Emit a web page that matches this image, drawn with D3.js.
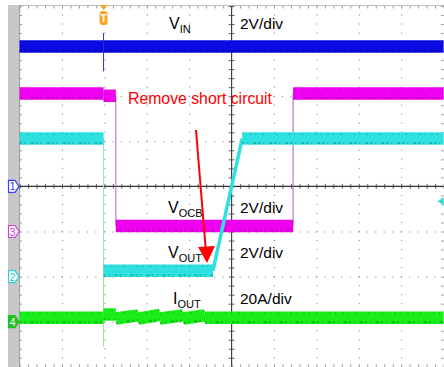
<!DOCTYPE html>
<html>
<head>
<meta charset="utf-8">
<script src="https://cdn.jsdelivr.net/npm/d3@7"></script>
<style>
body { margin: 0; background: #fff; }
svg { display: block; font-family: "Liberation Sans", Arial, sans-serif; }
</style>
</head>
<body>
<svg id="chart" width="444" height="367"></svg>
<script>
// time in divisions (10 across), level in divisions (0 = centre line, +-4)
const vinTime = [0, 10]
const vinLevel = [3.10, 3.10]
const vocbTime = [0, 1.98, 1.98, 2.27, 2.27, 6.45, 6.45, 10]
const vocbLevel = [2.06, 2.06, 2.01, 2.01, -0.88, -0.88, 2.06, 2.06]
const voutTime = [0, 1.98, 1.98, 4.56, 5.25, 10]
const voutLevel = [1.06, 1.06, -1.87, -1.87, 1.06, 1.06]
const ioutTime = [0, 1.98, 1.98, 2.27, 2.27, 2.8, 2.8, 3.31, 3.31, 3.86, 3.86, 4.37, 4.37, 10]
const ioutLevel = [-2.91, -2.91, -2.84, -2.84, -2.93, -2.86, -2.93, -2.85, -2.93, -2.86, -2.93, -2.86, -2.91, -2.91]

// glitches at the trigger instant: [time, from level, to level]
const vinSpike = [1.98, 3.4, 2.55]
const ioutSpike = [1.98, -1.42, -3.55]

const channelNames = ["1", "3", "2", "4"]
const channelRefs = [0, -1, -2, -3]
const channelColors = ["#3c3cff", "#d040d0", "#30d0d0", "#20c020"]

const labelMain = ["V", "V", "V", "I"]
const labelSub = ["IN", "OCB", "OUT", "OUT"]
const labelScale = ["2V/div", "2V/div", "2V/div", "20A/div"]
const labelLevel = [3.49, -0.59, -1.59, -2.61]
const labelX = [169, 168, 168, 173]

const noteText = "Remove short circuit"
const triggerLevel = -0.33

const W = 444, H = 367
const svg = d3.select("#chart")

const x = d3.scaleLinear().domain([0, 10]).range([19.6, 443.6])
const y = d3.scaleLinear().domain([-4, 4]).range([366.8, 6])

// left gray strip
svg.append("rect").attr("x", 8).attr("y", y(4) - 1).attr("width", 11.6).attr("height", H).attr("fill", "#c8c8c8")
svg.append("line").attr("x1", x(0)).attr("x2", x(0)).attr("y1", y(4) - 1).attr("y2", H).attr("stroke", "#9a9a9a")
svg.append("line").attr("x1", x(0)).attr("x2", W).attr("y1", y(4) - 0.5).attr("y2", y(4) - 0.5).attr("stroke", "#bbb")

const plotH = y(-4) - y(4)
const plotW = x(10) - x(0)
const minor = d3.range(0, 50.5, 1).map(d => d / 5)
const minorY = d3.range(0, 40.5, 1).map(d => -4 + d / 5)

// dotted grid
const gx = svg.append("g").attr("transform", `translate(0,${y(-4)})`)
    .call(d3.axisBottom(x).tickValues(d3.range(1, 10).filter(d => d !== 5)).tickSize(-plotH).tickFormat(""))
gx.select(".domain").remove()
gx.selectAll("line").attr("stroke", "#8a8a8a").attr("stroke-dasharray", "1.2 " + (plotH / 40 - 1.2)).attr("stroke-dashoffset", 0.6)

const gy = svg.append("g").attr("transform", `translate(${x(0)},0)`)
    .call(d3.axisLeft(y).tickValues(d3.range(-3, 4).filter(d => d !== 0)).tickSize(-plotW).tickFormat(""))
gy.select(".domain").remove()
gy.selectAll("line").attr("stroke", "#8a8a8a").attr("stroke-dasharray", "1.2 " + (plotW / 50 - 1.2)).attr("stroke-dashoffset", 0.6)

// border ticks
function edgeTicks(axis, tr, size) {
    const a = svg.append("g").attr("transform", tr).call(axis.tickSize(size).tickFormat("").tickSizeOuter(0))
    a.select(".domain").remove()
    a.selectAll("line").attr("stroke", "#999")
}
edgeTicks(d3.axisBottom(x).tickValues(minor), `translate(0,${y(4)})`, 2.5)
edgeTicks(d3.axisTop(x).tickValues(minor), `translate(0,${y(-4)})`, 2.5)
edgeTicks(d3.axisRight(y).tickValues(minorY), `translate(${x(0)},0)`, 2.5)
edgeTicks(d3.axisLeft(y).tickValues(minorY), `translate(${x(10)},0)`, 2.5)

// centre cross with minor ticks
const cx = svg.append("g").attr("transform", `translate(0,${y(0) - 2.5})`)
    .call(d3.axisBottom(x).tickValues(minor).tickSize(5).tickFormat(""))
cx.select(".domain").remove()
cx.selectAll("line").attr("stroke", "#666")
const cy = svg.append("g").attr("transform", `translate(${x(5) - 3},0)`)
    .call(d3.axisRight(y).tickValues(minorY).tickSize(6).tickFormat(""))
cy.select(".domain").remove()
cy.selectAll("line").attr("stroke", "#666")
svg.append("line").attr("x1", x(0)).attr("x2", x(10)).attr("y1", y(0)).attr("y2", y(0)).attr("stroke", "#333").attr("stroke-width", 1.3)
svg.append("line").attr("x1", x(5)).attr("x2", x(5)).attr("y1", y(4)).attr("y2", y(-4)).attr("stroke", "#444").attr("stroke-width", 1.2)

const line = d3.line().x(d => x(d[0])).y(d => y(d[1]))

function drawTrace(times, levels, color, dark, edgeColor) {
    const pts = times.map((t, i) => [t, levels[i]])
    const g = svg.append("g")
    let runs = [], cur = [pts[0]]
    for (let i = 1; i < pts.length; i++) {
        const a = pts[i - 1], b = pts[i]
        if (b[0] === a[0]) {
            runs.push(cur); cur = [b]
            g.append("path").attr("d", line([a, b])).attr("stroke", edgeColor).attr("stroke-width", 1).attr("fill", "none")
        } else if (Math.abs(b[1] - a[1]) / (b[0] - a[0]) > 1) {
            runs.push(cur); cur = [b]
            g.append("path").attr("d", line([a, b])).attr("stroke", color).attr("stroke-width", 3.5).attr("fill", "none")
        } else {
            cur.push(b)
        }
    }
    runs.push(cur)
    runs.filter(r => r.length > 1).forEach(r => {
        g.append("path").attr("d", line(r)).attr("stroke", color).attr("stroke-width", 12.5).attr("fill", "none")
        // speckle texture of the noisy band
        g.append("path").attr("d", line(r)).attr("stroke", dark).attr("stroke-width", 2).attr("fill", "none")
            .attr("transform", "translate(0,4.5)").attr("stroke-dasharray", "2 3 1 5 3 2").attr("opacity", 0.55)
        g.append("path").attr("d", line(r)).attr("stroke", dark).attr("stroke-width", 1.5).attr("fill", "none")
            .attr("transform", "translate(0,-4.5)").attr("stroke-dasharray", "1 6 2 4").attr("opacity", 0.4)
    })
}

function spike(s, color) {
    svg.append("line").attr("x1", x(s[0])).attr("x2", x(s[0])).attr("y1", y(s[1])).attr("y2", y(s[2]))
        .attr("stroke", color).attr("stroke-width", 1)
}

spike(ioutSpike, "#8fe88f")
drawTrace(vinTime, vinLevel, "#0b0be4", "#000080", "#6060e0")
spike(vinSpike, "#3030d0")
drawTrace(vocbTime, vocbLevel, "#f000f0", "#a000a0", "#b060c0")
drawTrace(voutTime, voutLevel, "#2ee0e0", "#0a9090", "#90e0e0")
drawTrace(ioutTime, ioutLevel, "#1aee1a", "#0a900a", "#8fe88f")

// trigger position marker
const tx = x(1.98)
svg.append("path")
    .attr("d", `M${tx - 4},${y(4) - 1}L${tx + 4},${y(4) - 1}L${tx},${y(4) + 4}Z`)
    .attr("fill", "#f5a623")
svg.append("rect").attr("x", tx - 4).attr("y", y(4) + 5).attr("width", 8).attr("height", 14).attr("rx", 3)
    .attr("fill", "#f5a623")
svg.append("text").attr("x", tx).attr("y", y(4) + 16).attr("text-anchor", "middle")
    .attr("font-size", 11).attr("font-weight", "bold").attr("fill", "#fff").text("T")

// trigger level marker on the right edge
svg.append("path")
    .attr("d", `M${x(10) - 6},${y(triggerLevel)}L${x(10)},${y(triggerLevel) - 4}L${x(10)},${y(triggerLevel) + 4}Z`)
    .attr("fill", "#30d8d8")

// channel reference markers
channelNames.forEach((n, i) => {
    const yy = y(channelRefs[i])
    const filled = n === "4"
    svg.append("path")
        .attr("d", `M8.5,${yy - 6}L15,${yy - 6}L19,${yy}L15,${yy + 6}L8.5,${yy + 6}Z`)
        .attr("fill", filled ? channelColors[i] : "#fff").attr("stroke", channelColors[i]).attr("stroke-width", 1.2)
    svg.append("text").attr("x", 12.5).attr("y", yy + 4).attr("text-anchor", "middle")
        .attr("font-size", 11).attr("fill", filled ? "#fff" : channelColors[i]).text(n)
})

// channel labels
labelMain.forEach((m, i) => {
    const t = svg.append("text").attr("x", labelX[i]).attr("y", y(labelLevel[i])).attr("font-size", 16).attr("fill", "#000")
    t.append("tspan").text(m)
    t.append("tspan").attr("font-size", 11).attr("dy", 4).text(labelSub[i])
    svg.append("text").attr("x", 240).attr("y", y(labelLevel[i])).attr("font-size", 15.5).attr("fill", "#000").text(labelScale[i])
})

// annotation
svg.append("text").attr("x", 128).attr("y", 104).attr("font-size", 15.8).attr("fill", "#ff0000").text(noteText)
svg.append("line").attr("x1", 196).attr("y1", 130).attr("x2", 205.8).attr("y2", 250)
    .attr("stroke", "#ff0000").attr("stroke-width", 2)
svg.append("path").attr("d", "M198,247L215,246L207,263Z").attr("fill", "#ff0000")
</script>
</body>
</html>
